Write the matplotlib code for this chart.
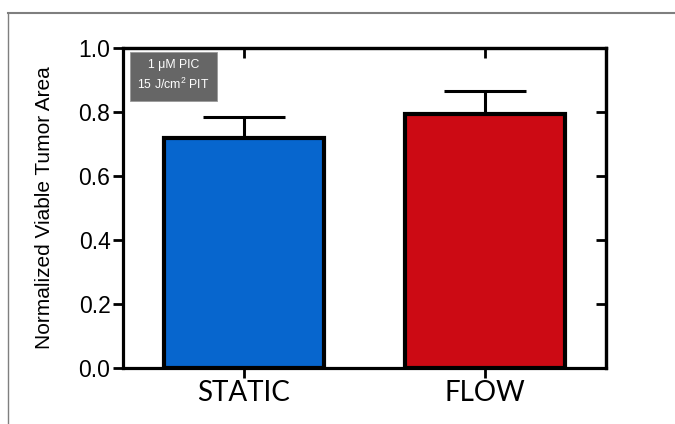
import matplotlib
matplotlib.use("Agg")
import matplotlib.pyplot as plt
import matplotlib.patches as mpatches
from matplotlib.lines import Line2D

plt.rcParams.update({
    "font.family": ["Liberation Sans", "DejaVu Sans"],
    "mathtext.fontset": "custom",
    "mathtext.rm": "Liberation Sans",
})

# data
groups = ["STATIC", "FLOW"]
means = [0.718, 0.793]
sem_upper = [0.067, 0.073]
bar_colors = ["#0766CE", "#CC0A14"]
y_ticks = [0.0, 0.2, 0.4, 0.6, 0.8, 1.0]
box_lines = ["1 \u03bcM PIC", "15 J/cm$^\\mathregular{2}$ PIT"]

fig = plt.figure(figsize=(6.75, 4.24), dpi=100)
ax = fig.add_axes([0.1822, 0.1321, 0.7156, 0.7547])

xs = list(range(len(groups)))
ax.errorbar(xs, means, yerr=[[0] * len(means), sem_upper], fmt="none",
            ecolor="black", elinewidth=2.2, capsize=29.5, capthick=2.2, zorder=1)
ax.bar(xs, means, width=0.664, color=bar_colors, edgecolor="black",
       linewidth=3.0, zorder=2)

ax.set_xlim(-0.5, 1.5)
ax.set_ylim(0, 1.0)
ax.set_yticks(y_ticks)
ax.set_yticklabels([f"{v:.1f}" for v in y_ticks], fontsize=16.5)
ax.set_xticks(xs)
ax.set_xticklabels(groups, fontsize=20, family="Lato")
ax.set_ylabel("Normalized Viable Tumor Area", fontsize=15, labelpad=18)

for sp in ax.spines.values():
    sp.set_linewidth(2.3)
ax.tick_params(axis="both", direction="out", length=7, width=2.0, pad=2)

# inward ticks on right and top
sec_y = ax.secondary_yaxis("right")
sec_y.set_yticks(y_ticks)
sec_y.tick_params(direction="in", length=7, width=2.0, labelright=False)
sec_y.spines["right"].set_linewidth(2.3)
sec_x = ax.secondary_xaxis("top")
sec_x.set_xticks(xs)
sec_x.tick_params(direction="in", length=7, width=2.0, labeltop=False)
sec_x.spines["top"].set_linewidth(2.3)

# grey label box
ax.add_patch(mpatches.Rectangle((0.0145, 0.834), 0.180, 0.1535, transform=ax.transAxes,
                                facecolor="#666666", edgecolor="#9a9a9a", linewidth=0.6,
                                zorder=3))
ax.text(0.1045, 0.947, box_lines[0], transform=ax.transAxes, ha="center", va="center",
        fontsize=8.8, color="white", zorder=4)
ax.text(0.1045, 0.887, box_lines[1], transform=ax.transAxes, ha="center", va="center",
        fontsize=8.8, color="white", zorder=4)

# grey frame on top and left of figure
fig.add_artist(Line2D([8 / 675, 1.0], [1 - 13 / 424, 1 - 13 / 424], color="#7f7f7f",
                      linewidth=1.5, transform=fig.transFigure))
fig.add_artist(Line2D([8 / 675, 8 / 675], [0.0, 1 - 13 / 424], color="#7f7f7f",
                      linewidth=1.0, transform=fig.transFigure))

fig.savefig("out.png", dpi=100)
